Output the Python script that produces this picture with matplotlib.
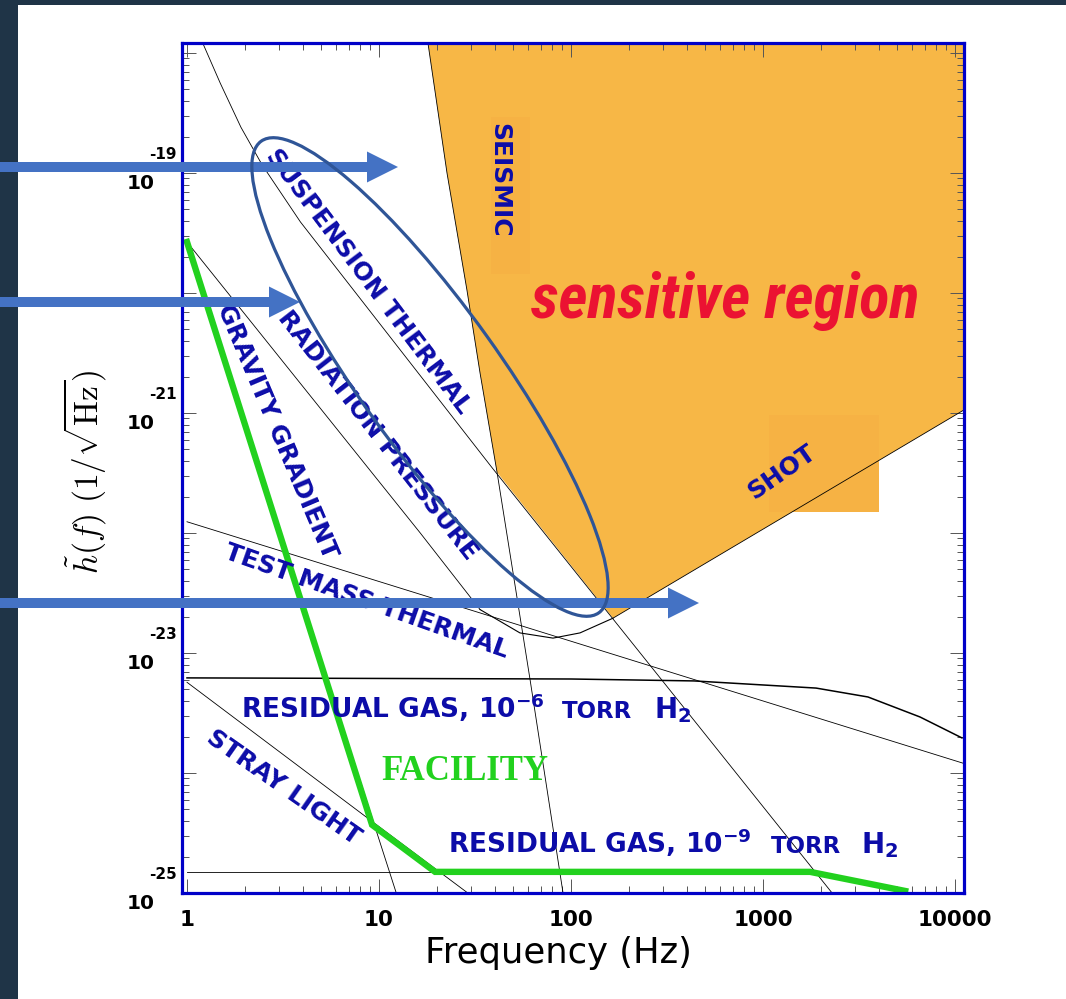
import matplotlib
matplotlib.use('Agg')
import matplotlib.pyplot as plt
import matplotlib.patches as patches
from matplotlib import font_manager
from matplotlib.ticker import LogLocator, NullFormatter
from matplotlib.transforms import blended_transform_factory, ScaledTranslation

W, H = 1066, 999

# curves: frequency (Hz), strain noise (1/sqrt(Hz))
seismic_f = [18.0, 22.6, 28.7, 33.6, 41.2, 61.2, 90.9]
seismic_h = [1.2e-18, 1.0e-19, 1.06e-20, 2.15e-21, 3.2e-22, 6.0e-24, 1.0e-25]

suspension_f = [1.21, 1.49, 1.91, 2.46, 3.9, 38.8, 2290]
suspension_h = [1.2e-18, 5.6e-19, 2.4e-19, 1.17e-19, 3.9e-20, 3.5e-22, 1.0e-25]

radiation_f = [1.0, 16.4, 33.6]
radiation_h = [2.66e-20, 1.0e-22, 2.3e-23]

total_f = [33.6, 54.2, 80.6, 111.4, 165.5]
total_h = [2.3e-23, 1.47e-23, 1.33e-23, 1.47e-23, 1.95e-23]

shot_f = [165.5, 11140]
shot_h = [1.95e-23, 1.06e-21]

testmass_f = [1.0, 11140]
testmass_h = [1.24e-22, 1.2e-24]

gravity_f = [1.0, 12.3]
gravity_h = [2.66e-20, 1.0e-25]

stray_f = [1.0, 9.5, 29.0]
stray_h = [5.7e-24, 3.8e-25, 1.0e-25]

gas6_f = [1.0, 100, 437, 1890, 3520, 6570, 10870]
gas6_h = [6.2e-24, 6.07e-24, 5.85e-24, 5.1e-24, 4.3e-24, 2.93e-24, 1.96e-24]

gas9_f = [1.0, 1760]
gas9_h = [1.5e-25, 1.5e-25]

facility_f = [1.0, 9.2, 19.6, 1760, 5500]
facility_h = [2.66e-20, 3.7e-25, 1.5e-25, 1.5e-25, 1.04e-25]

xtick_values = [1, 10, 100, 1000, 10000]
xtick_labels = ['1', '10', '100', '1000', '10000']
ytick_values = [1e-25, 1e-24, 1e-23, 1e-22, 1e-21, 1e-20, 1e-19, 1e-18]
ylabel_values = [1e-25, 1e-23, 1e-21, 1e-19]
ylabel_exps = ['-25', '-23', '-21', '-19']

XLIM = (0.9418, 11140)
YLIM = (1e-25, 1.21e-18)

ORANGE = '#F7B746'
BOX = '#F6B244'
BLUE_TXT = '#0C0CA8'
SPINE = '#0000C8'
GREEN = '#22D11E'
ARROW = '#4472C4'

names = {f.name for f in font_manager.fontManager.ttflist}
narrow = None
for cand in ['Liberation Sans Narrow', 'Roboto Condensed', 'Open Sans Condensed']:
    if cand in names:
        narrow = cand
        break

fig = plt.figure(figsize=(W / 100, H / 100), dpi=100)
fig.patch.set_facecolor('#1f3447')

# slide background: white panel
bg = fig.add_axes([0, 0, 1, 1], zorder=0)
bg.set_xlim(0, W); bg.set_ylim(H, 0); bg.axis('off')
bg.add_patch(patches.Rectangle((18, 5), W - 18, H - 5, facecolor='white', edgecolor='none'))

ax = fig.add_axes([182 / W, 1 - 893 / H, (964 - 182) / W, (893 - 43) / H], zorder=1)
ax.set_xscale('log'); ax.set_yscale('log')
ax.set_xlim(*XLIM); ax.set_ylim(*YLIM)
ax.set_facecolor('white')

# sensitive region (orange)
sens_f = seismic_f[:5] + shot_f + [shot_f[-1], seismic_f[0]]
sens_h = seismic_h[:5] + shot_h + [2e-18, 2e-18]
ax.fill(sens_f, sens_h, color=ORANGE, zorder=1, lw=0)
# faint label boxes from the slide
ax.fill([38.5, 60.8, 60.8, 38.5], [2.9e-19, 2.9e-19, 1.45e-20, 1.45e-20], color=BOX, lw=0, zorder=1.1)
ax.fill([1080, 4000, 4000, 1080], [9.6e-22, 9.6e-22, 1.5e-22, 1.5e-22], color=BOX, lw=0, zorder=1.1)

thin = dict(color='black', lw=0.6, zorder=3)
ax.plot(seismic_f, seismic_h, **thin)
ax.plot(suspension_f, suspension_h, **thin)
ax.plot(radiation_f, radiation_h, **thin)
ax.plot(total_f, total_h, color='black', lw=0.8, zorder=3)
ax.plot(shot_f, shot_h, **thin)
ax.plot(testmass_f, testmass_h, **thin)
ax.plot(gravity_f, gravity_h, **thin)
ax.plot(stray_f, stray_h, **thin)
ax.plot(gas6_f, gas6_h, color='black', lw=1.1, zorder=3)
ax.plot(gas9_f, gas9_h, **thin)
ax.plot(facility_f, facility_h, color=GREEN, lw=4.6, zorder=4, solid_joinstyle='miter')

lab = dict(color=BLUE_TXT, fontweight='bold', fontsize=18, ha='center', va='center',
           rotation_mode='anchor', zorder=6)
ax.text(8.77, 1.24e-20, 'SUSPENSION THERMAL', rotation=-53, **lab)
ax.text(9.88, 6.56e-22, 'RADIATION PRESSURE', rotation=-52, **lab)
ax.text(2.94, 6.95e-22, 'GRAVITY GRADIENT', rotation=-67, **lab)
ax.text(8.66, 2.71e-23, 'TEST MASS THERMAL', rotation=-19.5, **lab)
ax.text(3.2, 7.64e-25, 'STRAY LIGHT', rotation=-35, **lab)
ax.text(42.2, 8.75e-20, 'SEISMIC', rotation=-90, **lab)
ax.text(1256, 3.22e-22, 'SHOT', rotation=35, **lab)

gas = dict(color=BLUE_TXT, fontweight='bold', ha='left', va='baseline', zorder=6)
ax.text(1.91, 2.87e-24, r'RESIDUAL GAS, 10$^{\mathbf{-6}}$', fontsize=19, **gas)
ax.text(89.8, 2.87e-24, 'TORR', fontsize=16.5, **gas)
ax.text(270, 2.87e-24, r'H$_{\mathbf{2}}$', fontsize=20, **gas)
ax.text(22.9, 2.15e-25, r'RESIDUAL GAS, 10$^{\mathbf{-9}}$', fontsize=19, **gas)
ax.text(1101, 2.15e-25, 'TORR', fontsize=16.5, **gas)
ax.text(3238, 2.15e-25, r'H$_{\mathbf{2}}$', fontsize=20, **gas)

ax.text(28.0, 1.02e-24, 'FACILITY', color=GREEN, fontsize=25, fontweight='bold',
        family='Liberation Serif', ha='center', va='center', zorder=6)

if narrow:
    ax.text(638, 6.2e-21, 'sensitive region', color='#EB1232', fontsize=45, family=narrow,
            fontweight='bold', fontstyle='italic', ha='center', va='baseline', zorder=6)
else:
    ax.text(638, 6.2e-21, 'sensitive region', color='#EB1232', fontsize=37, family='Liberation Sans',
            fontweight='bold', fontstyle='italic', ha='center', va='baseline', zorder=6)

# axes styling
for s in ax.spines.values():
    s.set_color(SPINE); s.set_linewidth(2.3); s.set_zorder(7)
ax.set_xticks(xtick_values)
ax.set_xticklabels(xtick_labels, fontweight='bold', fontsize=15.5)
ax.set_yticks(ytick_values)
ax.yaxis.set_major_formatter(NullFormatter())
ax.xaxis.set_minor_locator(LogLocator(base=10, subs=range(2, 10), numticks=30))
ax.yaxis.set_minor_locator(LogLocator(base=10, subs=range(2, 10), numticks=60))
ax.xaxis.set_minor_formatter(NullFormatter())
ax.yaxis.set_minor_formatter(NullFormatter())
ax.tick_params(which='both', direction='in', top=True, right=True, color='#555555', width=0.7)
ax.tick_params(which='major', length=10)
ax.tick_params(which='minor', length=5)
ax.tick_params(axis='x', which='major', pad=12)

# y tick labels in the slide's style: "10" below the tick, exponent raised
bt = blended_transform_factory(ax.transAxes, ax.transData)
for v, e in zip(ylabel_values, ylabel_exps):
    ax.text(0, v, '10', fontsize=14.5, fontweight='bold', ha='right', va='top',
            transform=bt + ScaledTranslation(-0.27, -0.01, fig.dpi_scale_trans))
    ax.text(0, v, e, fontsize=11, fontweight='bold', ha='right', va='baseline',
            transform=bt + ScaledTranslation(-0.05, 0.14, fig.dpi_scale_trans))

ax.set_xlabel('Frequency (Hz)', fontsize=25.5)
ax.xaxis.set_label_coords(0.481, -0.05)
ax.set_ylabel(r'$\tilde{h}(f)\ (1/\sqrt{\mathrm{Hz}})$', fontsize=24, math_fontfamily='cm', va='center')
ax.yaxis.set_label_coords(-0.124, 0.495)

# slide annotations on top
ov = fig.add_axes([0, 0, 1, 1], zorder=3)
ov.set_xlim(0, W); ov.set_ylim(H, 0); ov.axis('off'); ov.patch.set_alpha(0)
for y0, x1 in [(167, 398), (302, 300), (603, 699)]:
    ov.add_patch(patches.FancyArrow(0, y0, x1, 0, width=10, head_width=31, head_length=31,
                                    length_includes_head=True, color=ARROW, lw=0))
ov.add_patch(patches.Ellipse((430, 377), width=580, height=140, angle=54.4,
                             fill=False, edgecolor='#2F5597', lw=2.3))

fig.savefig('out.png', dpi=100, facecolor=fig.get_facecolor())
